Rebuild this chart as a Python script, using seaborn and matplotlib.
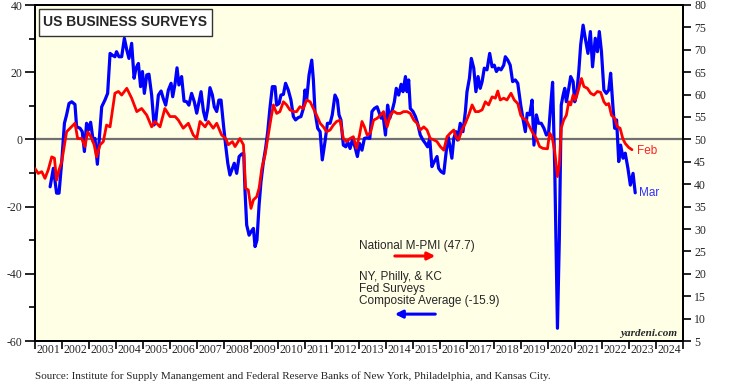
import matplotlib
matplotlib.use("Agg")
import matplotlib.pyplot as plt
from matplotlib.patches import Rectangle
import seaborn as sns
import numpy as np
import pandas as pd

# ---------------- data ----------------
# NY, Philly & KC Fed surveys composite (left axis), decimal years
blue_t = [2001.56, 2001.68, 2001.80, 2001.89, 2001.99, 2002.09, 2002.17, 2002.26, 2002.36, 2002.48,
          2002.54, 2002.67, 2002.75, 2002.83, 2002.91, 2002.98, 2003.06, 2003.16, 2003.22, 2003.31,
          2003.41, 2003.47, 2003.59, 2003.69, 2003.78, 2003.86, 2003.96, 2004.02, 2004.11, 2004.21,
          2004.31, 2004.40, 2004.48, 2004.58, 2004.67, 2004.74, 2004.83, 2004.91, 2004.98, 2005.05,
          2005.14, 2005.22, 2005.32, 2005.41, 2005.47, 2005.57, 2005.67, 2005.75, 2005.84, 2005.94,
          2006.04, 2006.10, 2006.19, 2006.26, 2006.33, 2006.43, 2006.52, 2006.62, 2006.70, 2006.80,
          2006.90, 2006.99, 2007.15, 2007.24, 2007.32, 2007.40, 2007.48, 2007.57, 2007.64, 2007.73,
          2007.81, 2007.89, 2007.98, 2008.06, 2008.14, 2008.22, 2008.31, 2008.38, 2008.47, 2008.56,
          2008.65, 2008.73, 2008.78, 2008.84, 2008.93, 2009.00, 2009.09, 2009.15, 2009.22, 2009.30,
          2009.37, 2009.46, 2009.54, 2009.62, 2009.70, 2009.79, 2009.89, 2009.95, 2010.04, 2010.11,
          2010.20, 2010.28, 2010.38, 2010.48, 2010.57, 2010.65, 2010.75, 2010.85, 2010.94, 2011.00,
          2011.06, 2011.15, 2011.25, 2011.31, 2011.37, 2011.47, 2011.56, 2011.64, 2011.74, 2011.83,
          2011.93, 2012.01, 2012.11, 2012.20, 2012.26, 2012.33, 2012.42, 2012.51, 2012.58, 2012.67,
          2012.75, 2012.85, 2012.94, 2013.02, 2013.11, 2013.20, 2013.30, 2013.40, 2013.48, 2013.57,
          2013.67, 2013.73, 2013.82, 2013.89, 2013.98, 2014.06, 2014.14, 2014.22, 2014.31, 2014.38,
          2014.47, 2014.56, 2014.63, 2014.72, 2014.78, 2014.84, 2014.90, 2015.00, 2015.09, 2015.17,
          2015.27, 2015.37, 2015.46, 2015.54, 2015.62, 2015.70, 2015.79, 2015.89, 2015.95, 2016.04,
          2016.14, 2016.23, 2016.30, 2016.36, 2016.44, 2016.51, 2016.59, 2016.65, 2016.75, 2016.85,
          2016.94, 2017.00, 2017.09, 2017.16, 2017.25, 2017.33, 2017.41, 2017.49, 2017.56, 2017.64,
          2017.74, 2017.84, 2017.93, 2018.01, 2018.09, 2018.17, 2018.26, 2018.36, 2018.42, 2018.51,
          2018.60, 2018.69, 2018.79, 2018.88, 2018.99, 2019.07, 2019.16, 2019.23, 2019.32, 2019.41,
          2019.48, 2019.57, 2019.65, 2019.75, 2019.85, 2019.94, 2020.02, 2020.10, 2020.17, 2020.25,
          2020.35, 2020.42, 2020.49, 2020.56, 2020.62, 2020.68, 2020.77, 2020.84, 2020.93, 2020.99,
          2021.06, 2021.14, 2021.21, 2021.30, 2021.38, 2021.48, 2021.57, 2021.65, 2021.75, 2021.83,
          2021.90, 2021.98, 2022.07, 2022.16, 2022.25, 2022.32, 2022.41, 2022.47, 2022.54, 2022.62,
          2022.69, 2022.78, 2022.86, 2022.96, 2023.05, 2023.15, 2023.23]
blue_v = [-14.1, -8.6, -16.0, -16.0, -6.6, 4.8, 7.3, 10.7, 11.2, 10.4,
          3.8, 3.3, 2.3, -3.6, 4.8, 2.8, 5.1, -0.7, 0.3, -7.4,
          3.3, 9.7, 11.7, 13.7, 25.6, 25.1, 24.6, 26.1, 24.6, 24.6,
          30.1, 26.6, 24.1, 28.6, 18.2, 21.2, 22.6, 15.7, 20.2, 13.7,
          19.2, 19.4, 13.2, 4.3, 5.3, 13.2, 14.4, 12.2, 10.2, 14.7,
          16.7, 12.7, 16.7, 21.3, 16.2, 18.7, 11.4, 11.2, 10.2, 13.7,
          11.2, 7.8, 14.2, 8.3, 5.8, 9.2, 15.4, 13.2, 9.7, 8.3,
          11.7, 11.7, 4.3, -1.7, -7.1, -10.6, -8.6, -7.1, -10.1, -5.1,
          -4.4, -4.1, -15.6, -25.5, -28.5, -27.5, -26.5, -31.9, -30.0, -19.5,
          -12.6, -6.6, -2.7, 2.3, 9.2, 15.7, 15.7, 10.2, 10.7, 13.2,
          13.4, 16.7, 14.7, 11.7, 6.8, 5.8, 6.5, 6.8, 9.2, 14.7,
          11.7, 19.2, 23.6, 17.7, 8.3, 3.3, 2.3, -6.1, -0.7, 4.8,
          4.8, 7.3, 13.2, 11.7, 7.3, 5.8, -1.7, -2.2, -0.7, -2.7,
          -0.2, -2.2, -5.1, -1.2, -3.2, 0.3, 0.5, 0.3, 8.3, 9.2,
          9.7, 8.3, 6.3, 7.3, 1.3, 10.2, 6.3, 8.3, 11.2, 15.2,
          13.2, 16.4, 14.2, 18.7, 14.2, 17.7, 9.2, 8.3, 6.8, 4.8,
          1.3, -0.2, -1.2, -2.2, 0.3, -8.1, -6.6, -5.1, -8.6, -9.6,
          -10.1, -3.6, 0.8, -1.7, -5.6, 0.3, 2.3, -0.2, 4.8, 2.3,
          8.3, 14.2, 18.2, 24.1, 21.2, 14.2, 18.7, 15.2, 17.2, 21.2,
          20.7, 25.6, 21.6, 22.1, 20.2, 21.2, 20.7, 22.1, 24.6, 23.6,
          22.1, 17.2, 17.7, 16.7, 10.2, 6.3, 2.3, 7.8, 7.3, 11.7,
          -1.7, 7.3, 4.8, 4.8, 3.3, 1.3, 1.8, 10.2, 17.0, -8.6,
          -56.2, -29.4, 10.2, 13.2, 15.2, 11.2, 15.2, 18.7, 17.2, 11.2,
          13.2, 20.2, 28.1, 34.0, 30.1, 25.6, 32.1, 21.6, 30.1, 26.1,
          32.1, 26.1, 14.7, 13.7, 14.7, 19.7, 9.2, 3.3, 5.8, -6.6,
          -1.7, -5.6, -4.1, -8.6, -13.6, -10.1, -15.9]

# National manufacturing PMI (right axis), decimal years
red_t = [2001.00, 2001.12, 2001.25, 2001.37, 2001.49, 2001.62, 2001.72, 2001.80, 2001.89, 2001.99,
         2002.09, 2002.17, 2002.30, 2002.48, 2002.58, 2002.73, 2002.85, 2002.95, 2003.07, 2003.19,
         2003.28, 2003.41, 2003.53, 2003.65, 2003.78, 2003.96, 2004.09, 2004.21, 2004.40, 2004.58,
         2004.77, 2004.95, 2005.14, 2005.32, 2005.44, 2005.63, 2005.81, 2006.00, 2006.19, 2006.31,
         2006.49, 2006.68, 2006.86, 2006.99, 2007.11, 2007.30, 2007.42, 2007.60, 2007.73, 2007.91,
         2008.06, 2008.16, 2008.31, 2008.41, 2008.59, 2008.72, 2008.80, 2008.90, 2009.00, 2009.09,
         2009.21, 2009.30, 2009.40, 2009.52, 2009.64, 2009.74, 2009.83, 2009.95, 2010.07, 2010.20,
         2010.32, 2010.44, 2010.57, 2010.69, 2010.81, 2010.94, 2011.06, 2011.19, 2011.31, 2011.43,
         2011.56, 2011.68, 2011.80, 2011.93, 2012.05, 2012.17, 2012.30, 2012.42, 2012.54, 2012.67,
         2012.79, 2012.91, 2013.02, 2013.11, 2013.20, 2013.30, 2013.42, 2013.54, 2013.67, 2013.79,
         2013.91, 2014.04, 2014.16, 2014.28, 2014.41, 2014.53, 2014.65, 2014.78, 2014.90, 2015.03,
         2015.15, 2015.27, 2015.40, 2015.52, 2015.64, 2015.77, 2015.89, 2016.01, 2016.14, 2016.26,
         2016.38, 2016.51, 2016.59, 2016.69, 2016.81, 2016.94, 2017.06, 2017.19, 2017.31, 2017.43,
         2017.56, 2017.68, 2017.80, 2017.93, 2018.05, 2018.14, 2018.23, 2018.36, 2018.48, 2018.63,
         2018.75, 2018.88, 2018.99, 2019.07, 2019.20, 2019.32, 2019.44, 2019.57, 2019.69, 2019.81,
         2019.98, 2020.06, 2020.15, 2020.25, 2020.35, 2020.42, 2020.49, 2020.58, 2020.68, 2020.77,
         2020.84, 2020.93, 2021.01, 2021.11, 2021.24, 2021.33, 2021.46, 2021.58, 2021.70, 2021.83,
         2021.95, 2022.07, 2022.16, 2022.25, 2022.35, 2022.47, 2022.57, 2022.67, 2022.77, 2022.86,
         2022.99, 2023.11]
red_v = [43.5, 42.4, 42.8, 41.3, 43.2, 46.1, 45.8, 40.9, 43.2, 45.0,
         48.8, 51.7, 52.5, 53.6, 50.2, 50.2, 48.4, 51.7, 50.6, 48.8,
         46.1, 48.8, 49.5, 53.2, 52.8, 60.3, 60.7, 59.9, 61.4, 59.2,
         56.2, 56.9, 55.4, 52.8, 54.0, 52.8, 56.9, 55.1, 55.1, 54.3,
         52.5, 53.6, 51.0, 50.2, 54.0, 52.8, 54.0, 52.5, 53.6, 51.0,
         50.2, 48.8, 49.5, 48.4, 50.2, 48.8, 39.1, 38.7, 34.6, 36.5,
         37.2, 39.1, 43.5, 46.5, 51.0, 54.7, 57.7, 55.8, 56.2, 58.4,
         57.7, 56.6, 56.2, 56.2, 57.3, 56.9, 58.8, 58.4, 56.9, 55.4,
         53.6, 52.8, 51.7, 52.1, 53.2, 54.0, 54.3, 50.2, 49.5, 50.2,
         50.6, 48.0, 51.0, 54.0, 52.8, 51.0, 51.4, 54.3, 54.7, 55.4,
         56.2, 52.8, 55.4, 56.3, 55.8, 55.8, 56.2, 56.2, 55.8, 54.3,
         53.6, 52.1, 52.8, 52.1, 50.2, 49.9, 49.5, 48.4, 47.6, 50.6,
         51.4, 52.1, 50.6, 49.9, 52.1, 53.6, 55.4, 57.7, 56.2, 56.2,
         56.6, 58.4, 57.7, 59.5, 59.2, 60.8, 58.8, 59.2, 58.8, 60.3,
         58.8, 58.0, 55.4, 54.7, 54.3, 52.8, 51.4, 50.2, 48.4, 48.0,
         47.9, 51.4, 50.6, 47.3, 41.7, 44.3, 52.5, 54.3, 55.4, 58.4,
         57.7, 59.9, 58.8, 60.7, 63.6, 61.8, 61.4, 60.3, 59.9, 60.7,
         60.5, 58.4, 57.7, 58.0, 55.4, 54.7, 52.8, 52.5, 50.2, 49.1,
         48.2, 47.7]

year_labels = [str(y) for y in range(2001, 2025)]
left_ticks = [-60, -40, -20, 0, 20, 40]
right_ticks = list(range(5, 81, 5))

# ---------------- plotting ----------------
sns.set_theme(style="ticks")
plt.rcParams["font.family"] = ["Liberation Serif", "DejaVu Serif"]
plt.rcParams["axes.unicode_minus"] = False

fig = plt.figure(figsize=(7.3, 3.9), dpi=100)
ax = fig.add_axes([35 / 730, 1 - 341 / 390, 648 / 730, 336 / 390])
ax.set_facecolor("#FFFFE6")
ax2 = ax.twinx()

ax.axhline(0, color="#707070", lw=1.6, zorder=1)
sns.lineplot(x=blue_t, y=blue_v, ax=ax, color="#0000FF", lw=2.3, estimator=None, sort=False, zorder=3)
sns.lineplot(x=red_t, y=red_v, ax=ax2, color="#FF0000", lw=2.0, estimator=None, sort=False, zorder=4)

ax.set_xlim(2001, 2025)
ax.set_ylim(-60, 40)
ax2.set_ylim(5, 80)
for a in (ax, ax2):
    a.set_xlabel("")
    a.set_ylabel("")
    for s in a.spines.values():
        s.set_color("black")
        s.set_linewidth(1.4)

# x axis: ticks at year boundaries, labels centered between
ax.set_xticks(np.arange(2001, 2026))
ax.set_xticklabels([])
ax.set_xticks(np.arange(2001, 2025) + 0.5, minor=True)
ax.set_xticklabels(year_labels, minor=True)
ax.tick_params(axis="x", which="major", direction="out", length=6, width=1.2, color="black")
ax.tick_params(axis="x", which="minor", length=0, labelsize=8.5, pad=2)

ax.set_yticks(left_ticks)
ax.set_yticks([-50, -30, -10, 10, 30], minor=True)
ax.tick_params(axis="y", which="major", direction="out", length=7, width=1.2, labelsize=8.5, pad=2, color="black")
ax.tick_params(axis="y", which="minor", direction="out", length=4, width=1.2, color="black")

ax2.set_yticks(right_ticks)
ax2.tick_params(axis="y", which="major", direction="out", length=6, width=1.2, labelsize=8.5, pad=2, color="black")

# title box
fig.add_artist(Rectangle((39 / 730, 1 - 36 / 390), 173 / 730, 27 / 390, transform=fig.transFigure,
                         facecolor="white", edgecolor="#333333", lw=1.0, zorder=10))
fig.text(125.5 / 730, 1 - 22.5 / 390, "US BUSINESS SURVEYS", family="Liberation Sans", weight="bold",
         fontsize=10, ha="center", va="center", zorder=11)

# annotations
ax.text(0.50, 0.283, "National M-PMI (47.7)", transform=ax.transAxes, family="Liberation Sans",
        fontsize=8.5, ha="left", va="center", zorder=6)
ax.annotate("", xy=(0.622, 0.253), xytext=(0.551, 0.253), xycoords="axes fraction",
            arrowprops=dict(arrowstyle="-|>", color="#FF0000", lw=2.2, mutation_scale=11), zorder=6)
ax.text(0.50, 0.207, "NY, Philly, & KC\nFed Surveys\nComposite Average (-15.9)", transform=ax.transAxes,
        family="Liberation Sans", fontsize=8.5, ha="left", va="top", linespacing=1.0, zorder=6)
ax.annotate("", xy=(0.551, 0.080), xytext=(0.622, 0.080), xycoords="axes fraction",
            arrowprops=dict(arrowstyle="-|>", color="#0000FF", lw=2.2, mutation_scale=11), zorder=6)

ax.text((637 - 35) / 648, (341 - 151) / 336, "Feb", transform=ax.transAxes, family="Liberation Sans",
        fontsize=8.5, color="#FF2020", ha="left", va="center")
ax.text((639 - 35) / 648, (341 - 193) / 336, "Mar", transform=ax.transAxes, family="Liberation Sans",
        fontsize=8.5, color="#3030FF", ha="left", va="center")

ax.text((677 - 35) / 648, (341 - 334) / 336, "yardeni.com", transform=ax.transAxes,
        fontsize=8, weight="bold", style="italic", ha="right", va="center")

fig.text(35 / 730, 1 - 376 / 390,
         "Source: Institute for Supply Manangement and Federal Reserve Banks of New York, Philadelphia, and Kansas City.",
         fontsize=8, ha="left", va="center")

fig.savefig("out.png", dpi=100, facecolor="white")
